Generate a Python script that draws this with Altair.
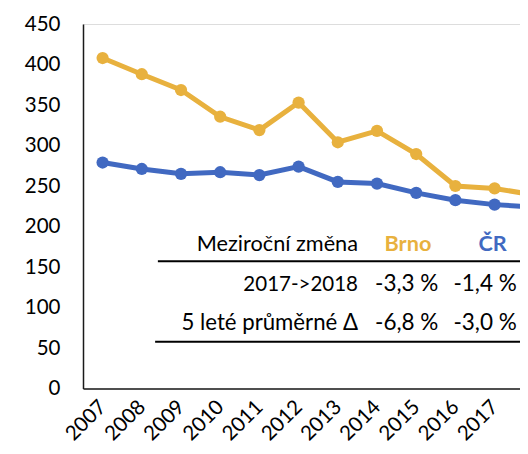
import altair as alt
import pandas as pd

years = list(range(2007, 2019))
brno = [408, 388, 368.5, 335.5, 319, 353, 304, 318, 289.5, 250, 247, 239]
cr = [279, 271, 265, 267, 263.5, 274, 255, 253, 241.5, 232.5, 227, 224]
series_names = ["Brno", "ČR"]
series_colors = ["#E8B13E", "#4169C1"]

table_header = "Meziroční změna"
row_labels = ["2017->2018", "5 leté průměrné Δ"]
brno_changes = ["-3,3 %", "-6,8 %"]
cr_changes = ["-1,4 %", "-3,0 %"]

FONT = "Lato"
W = 437

df = pd.DataFrame({
    "year": years * 2,
    "value": brno + cr,
    "series": ["Brno"] * len(years) + ["ČR"] * len(years),
})

x_dom = [2006.5, 2006.5 + W / 39.2]
xs = alt.Scale(domain=x_dom, nice=False, zero=False)
ys = alt.Scale(domain=[0, 450], nice=False)
cs = alt.Scale(domain=series_names, range=series_colors)

base = alt.Chart(df).encode(
    x=alt.X("year:Q", scale=xs, title=None,
            axis=alt.Axis(values=years, format="d", labelAngle=-45, labelAlign="right",
                          labelBaseline="middle", labelPadding=15, ticks=False, grid=False,
                          labelFontSize=20.5, labelFont=FONT, labelColor="#000",
                          domainColor="#1a1a1a", domainWidth=1.5, labelOverlap=False,
                          labelBound=False, labelFlush=False)),
    y=alt.Y("value:Q", scale=ys, title=None,
            axis=alt.Axis(values=list(range(0, 451, 50)), ticks=False, grid=False,
                          labelPadding=23, labelFontSize=20.5, labelFont=FONT, labelColor="#000",
                          domainColor="#1a1a1a", domainWidth=1.5)),
    color=alt.Color("series:N", scale=cs, legend=None),
)

lines = base.mark_line(strokeWidth=5, clip=True)
points = base.mark_circle(size=150, opacity=1, clip=True)

# table annotations
hdr = pd.DataFrame({
    "x": [2013.515, 2014.79, 2016.95],
    "y": [169.8, 169.8, 169.8],
    "t": [table_header, "Brno", "ČR"],
    "c": ["#000000", series_colors[0], series_colors[1]],
})

hdr_text = alt.layer(
    alt.Chart(hdr.iloc[[0]]).mark_text(align="right", baseline="alphabetic", fontSize=21.7, font=FONT, clip=True),
    alt.Chart(hdr.iloc[[1, 2]]).mark_text(align="center", baseline="alphabetic", fontSize=21.7, font=FONT,
                                          fontWeight="bold", clip=True),
).encode(
    x=alt.X("x:Q", scale=xs), y=alt.Y("y:Q", scale=ys), text="t:N",
    color=alt.Color("c:N", scale=None),
)

rows = pd.DataFrame({
    "lab": row_labels,
    "lx": [2013.515, 2013.515],
    "bx": [2013.95, 2013.95],
    "cx": [2015.95, 2015.95],
    "y": [120.4, 72.6],
    "b": brno_changes,
    "c": cr_changes,
})
row_lab1 = alt.Chart(rows.iloc[[0]]).mark_text(align="right", baseline="alphabetic", fontSize=20.5, font=FONT,
                                               color="#000", clip=True).encode(
    x=alt.X("lx:Q", scale=xs), y=alt.Y("y:Q", scale=ys), text="lab:N")
row_lab2 = alt.Chart(rows.iloc[[1]]).mark_text(align="right", baseline="alphabetic", fontSize=22.2, font=FONT,
                                               color="#000", clip=True).encode(
    x=alt.X("lx:Q", scale=xs), y=alt.Y("y:Q", scale=ys), text="lab:N")
row_b = alt.Chart(rows).mark_text(align="left", baseline="alphabetic", fontSize=22.5, font=FONT,
                                  color="#000", clip=True).encode(
    x=alt.X("bx:Q", scale=xs), y=alt.Y("y:Q", scale=ys), text="b:N")
row_c = alt.Chart(rows).mark_text(align="left", baseline="alphabetic", fontSize=22.5, font=FONT,
                                  color="#000", clip=True).encode(
    x=alt.X("cx:Q", scale=xs), y=alt.Y("y:Q", scale=ys), text="c:N")

rules_df = pd.DataFrame({"x1": [2008.41, 2008.34], "x2": [2018.5, 2018.5], "y": [157, 57.8]})
rules = alt.Chart(rules_df).mark_rule(color="#000", strokeWidth=2, clip=True).encode(
    x=alt.X("x1:Q", scale=xs), x2="x2:Q", y=alt.Y("y:Q", scale=ys))

chart = alt.layer(lines, points, rules, hdr_text, row_lab1, row_lab2, row_b, row_c).properties(
    width=W, height=364.5,
    autosize=alt.AutoSizeParams(type="none"),
    padding={"left": 75, "top": 16, "right": 0, "bottom": 56.5},
).configure_view(stroke=None).configure(background="white")

chart.save("out.html", embed_options={"renderer": "svg", "actions": False})
